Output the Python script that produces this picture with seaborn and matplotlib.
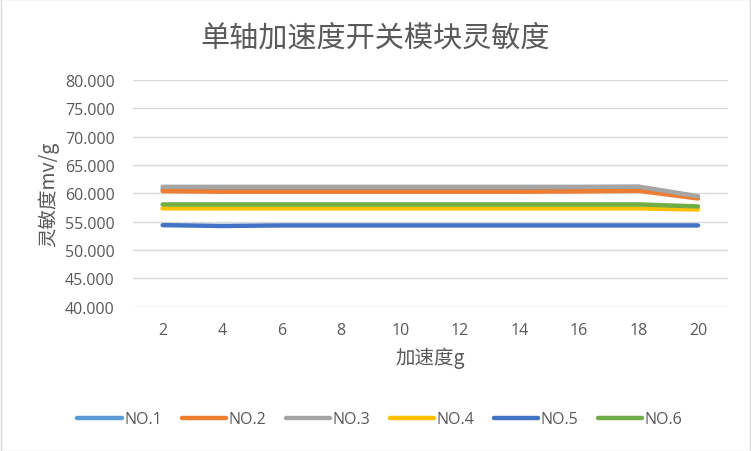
import matplotlib
matplotlib.use("Agg")
import matplotlib.pyplot as plt
import seaborn as sns
import pandas as pd
from matplotlib.lines import Line2D

accel = [2, 4, 6, 8, 10, 12, 14, 16, 18, 20]
no1 = [60.75, 60.75, 60.75, 60.75, 60.75, 60.75, 60.75, 60.75, 60.80, 59.30]
no2 = [60.40, 60.30, 60.30, 60.30, 60.30, 60.30, 60.30, 60.35, 60.45, 59.10]
no3 = [61.15, 61.15, 61.15, 61.15, 61.15, 61.15, 61.15, 61.15, 61.20, 59.50]
no4 = [57.35, 57.35, 57.35, 57.35, 57.35, 57.35, 57.35, 57.35, 57.35, 57.15]
no5 = [54.40, 54.25, 54.35, 54.35, 54.35, 54.35, 54.35, 54.35, 54.35, 54.35]
no6 = [58.05, 58.05, 58.05, 58.05, 58.05, 58.05, 58.05, 58.05, 58.05, 57.70]
series_names = ["NO.1", "NO.2", "NO.3", "NO.4", "NO.5", "NO.6"]
colors = ["#5B9BD5", "#ED7D31", "#A5A5A5", "#FFC000", "#4472C4", "#70AD47"]
yticks = [40, 45, 50, 55, 60, 65, 70, 75, 80]

rows = []
for name, vals in zip(series_names, [no1, no2, no3, no4, no5, no6]):
    for a, v in zip(accel, vals):
        rows.append({"加速度": a, "灵敏度": v, "系列": name})
df = pd.DataFrame(rows)

sns.set_theme(style="white")
plt.rcParams["font.family"] = ["Noto Sans CJK SC", "DejaVu Sans"]
txt = "#595959"

fig = plt.figure(figsize=(7.51, 4.52), dpi=100)
ax = fig.add_axes([0.177, 0.319, 0.792, 0.502])
sns.lineplot(data=df, x="加速度", y="灵敏度", hue="系列", palette=colors,
             hue_order=series_names, linewidth=3.2, ax=ax, legend=False,
             solid_capstyle="round")

ax.set_xlim(1, 21)
ax.set_ylim(40, 80)
ax.set_xticks(accel)
ax.set_xticklabels([str(a) for a in accel], fontsize=11.5, color=txt, family="Open Sans")
ax.set_yticks(yticks)
ax.set_yticklabels([f"{y:.3f}" for y in yticks], fontsize=11.5, color=txt, family="Open Sans")
ax.tick_params(axis="x", length=0, pad=11)
ax.tick_params(axis="y", length=0, pad=13)
ax.grid(axis="y", color="#D9D9D9", linewidth=1)
ax.set_axisbelow(True)
for s in ax.spines.values():
    s.set_visible(False)
ax.set_xlabel("加速度g", fontsize=14, color=txt, labelpad=6)
ax.set_ylabel("灵敏度mv/g", fontsize=14, color=txt, labelpad=4)

fig.text(0.5, 0.915, "单轴加速度开关模块灵敏度", ha="center", va="center",
         fontsize=21, color=txt, fontweight="light")

handles = [Line2D([0], [0], color=c, lw=3.2, solid_capstyle="round") for c in colors]
fig.legend(handles, series_names, loc="center", bbox_to_anchor=(0.506, 0.07),
           ncol=6, frameon=False, handlelength=2.8,
           columnspacing=1.2, handletextpad=0.15, labelcolor=txt,
           prop={"family": "Open Sans", "size": 11.5})

fig.patches.append(plt.Rectangle((0.001, 0.001), 0.998, 0.998, transform=fig.transFigure,
                                 fill=False, edgecolor="#D9D9D9", linewidth=1))
fig.savefig("out.png", dpi=100)
